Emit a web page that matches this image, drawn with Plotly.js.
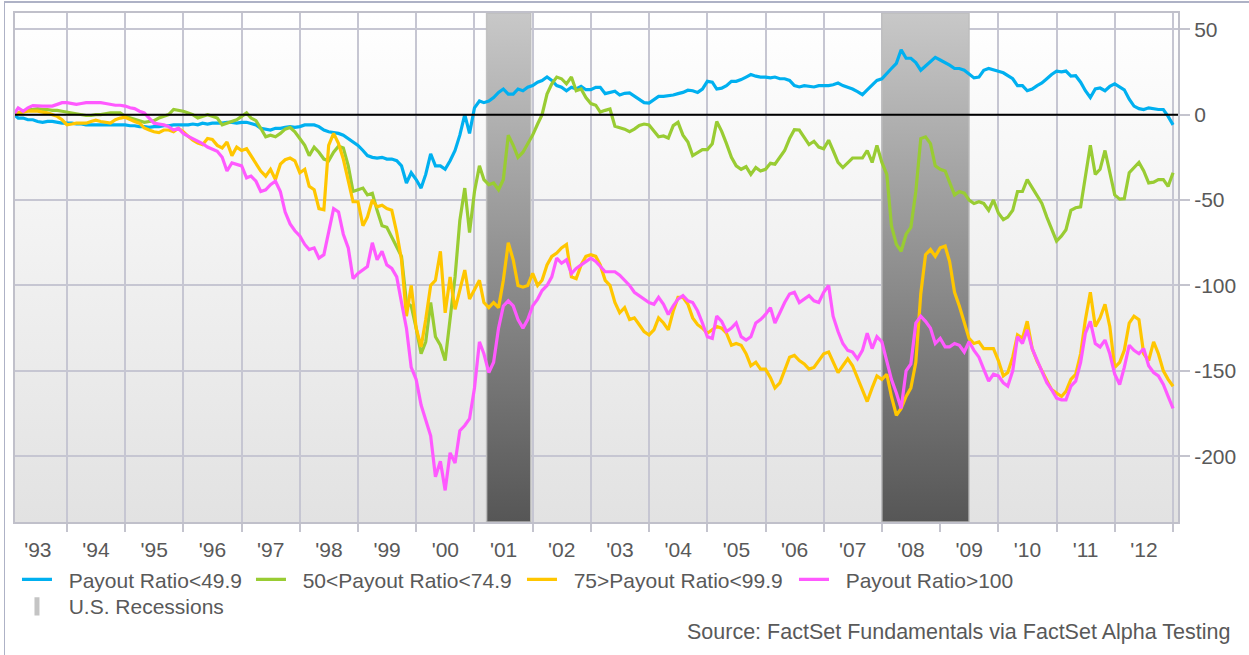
<!DOCTYPE html>
<html>
<head>
<meta charset="utf-8">
<script src="https://cdn.plot.ly/plotly-3.0.1.min.js"></script>
<style>
html,body{margin:0;padding:0;background:#ffffff;}
#wrap{position:relative;width:1249px;height:655px;overflow:hidden;}
#chart{position:absolute;left:0;top:0;width:1249px;height:655px;}
#frame{position:absolute;left:4px;top:1px;width:1250px;height:660px;border-left:1px solid #aeb2c6;border-top:2px solid #aeb2c6;pointer-events:none;}
</style>
</head>
<body>
<div id="wrap"><div id="chart"></div><div id="frame"></div></div>
<script>
// Monthly series, first value = Feb 1993, last value = Jan 2013
const firstYear = 1993;
const firstMonth = 2;

const payoutBelow50 = [
  0, -2, -2, -3, -3, -4, -4.5, -4, -4, -4.5, -5,
  -5, -5, -5.5, -5.5, -6, -6, -6, -6, -6, -6, -6, -6,
  -6, -6.5, -6.5, -7, -7, -7.5, -7, -7, -6.5, -6.5, -6, -6,
  -6, -6, -5.5, -6, -5, -5.5, -5, -5, -5, -4.5, -4.5, -5,
  -4.5, -4.5, -5, -6, -8, -8.5, -9, -8, -8, -7.5, -7, -7.5,
  -7, -6, -6, -6, -7, -9, -10, -10.5, -11, -12, -14, -16,
  -18, -21, -24, -25, -25.5, -25, -26, -26, -27, -30, -40, -34,
  -38, -43, -35, -23, -30, -30, -32, -27, -21, -12, 0, -11,
  4, 8, 7, 8, 10, 13, 15, 12, 12, 15, 14, 16,
  17, 19, 20, 22, 20, 17, 16, 14, 16, 15, 16.6, 14.6,
  14.6, 16, 16, 12.3, 13, 13.7, 11.5, 12.5, 12.7, 11, 9, 7,
  6.8, 9, 10.7, 10.7, 11, 11.5, 12.3, 13, 14.3, 14, 13, 15,
  19.5, 19, 15, 15.5, 17, 19.5, 19.5, 20.5, 22, 23.5, 22.5, 22,
  22, 21.5, 22, 21, 21, 20, 17, 16.2, 17, 16.5, 16.2, 17,
  17, 17, 17.5, 18.5, 17, 16.2, 15, 13.5, 11.7, 14.5, 17.5, 20,
  21, 24.4, 27, 30, 38, 33, 33, 30.5, 26, 28.5, 31, 33.5,
  32, 30.5, 29, 27, 27, 26, 24, 21.5, 22, 26, 27, 26,
  25.4, 24.5, 23, 21, 17, 17, 14, 15, 17, 18.5, 21, 23.5,
  25.4, 25, 25.5, 22.5, 22.8, 19, 14, 10, 15, 15.6, 14, 16.5,
  18, 16, 14.5, 9, 5, 3.5, 3, 4, 3.3, 3, 3, -1,
  -6
];

const payout50to75 = [
  0, 1, 2, 3, 3, 3.5, 3, 3, 2.5, 2.5, 2,
  1.5, 1, 0.5, 0, -0.5, -0.5, 0, 0, 0.5, 1, 1, 1,
  -1, -2, -3, -4, -4.5, -4, -3.5, -2, -1, 0, 3, 2.5,
  2, 1, 0, -2, -1, 0, -1, -2, -6, -5, -4, -3,
  -1, 1, -2, -3.5, -8, -13, -12, -13, -11, -8.5, -7.5, -10,
  -14, -18, -24, -19, -22, -26, -27, -22, -18.5, -19.5, -30, -45,
  -44, -43, -47, -46, -56, -65, -66, -72, -77, -83, -110, -112,
  -125, -140, -133, -110, -130, -135, -144, -118, -95, -62, -43, -69,
  -45, -30, -38, -41, -40, -44, -38, -12, -18, -25, -22, -17,
  -12, -5.5, 0, 12, 18, 22, 21, 18, 22, 14, 15, 10,
  6.5, 5.5, 1.5, 2.5, 3.3, -6.8, -7.5, -8.5, -10, -8.5, -6.4, -5.5,
  -6, -10, -13, -12.5, -13.7, -6.4, -4.5, -12, -16, -24, -22, -20.5,
  -20.5, -17, -4, -9.8, -17, -25, -30, -32, -30.5, -35, -31, -33,
  -32, -28.5, -29, -25, -21, -14, -8.8, -9, -13, -17.5, -15.6, -19,
  -20, -15, -21, -28, -31, -28, -25.4, -25.4, -25.4, -21, -28, -18,
  -28, -35, -65, -76, -80, -70, -66, -45, -14, -13, -17, -30,
  -32, -33, -40, -47, -45, -46, -50, -52, -51, -52, -56, -50,
  -57.6, -61.5, -60, -56, -45, -45, -38, -43, -48, -52, -60, -67,
  -74, -71, -67.4, -56, -54.5, -54, -35, -18, -35, -32, -21, -33,
  -47, -49.5, -49.2, -34, -31, -28, -33, -40, -39.5, -38, -38, -42,
  -34
];

const payout75to100 = [
  0, 1, 1.5, 2, 2, 2, 1.5, 1, 0, -1, -3,
  -5.9, -5.5, -5, -5, -5, -4, -3.3, -4, -4.5, -5, -3, -2,
  -1.5, -3, -4, -5, -7.8, -9, -10, -10.5, -9, -9, -10, -8,
  -10, -12.7, -15, -16.6, -17.6, -14, -14.5, -18, -19.5, -16, -24, -19,
  -21, -20, -24, -28, -33, -36, -32, -38, -29, -26.4, -25.4, -27,
  -34, -32, -42, -44, -55, -55.7, -18, -11, -17, -26, -39, -51,
  -51, -65, -60, -50, -54, -53, -55, -56, -69, -85, -118, -100,
  -125, -136, -120, -100, -97, -80, -116, -95, -114, -102, -91, -108,
  -102, -97, -110, -113, -110, -113, -97, -75, -85, -100, -101, -100,
  -93, -100, -97, -88, -83, -81, -78, -76, -95, -96, -88, -83,
  -82, -83, -88, -97, -100, -110, -116, -113, -120, -119, -123, -127,
  -129, -126, -119, -122, -126, -115, -107, -107, -111, -119, -123, -125,
  -128, -126, -124, -125, -128, -135, -134, -135, -140, -147, -145, -149,
  -149, -154, -160, -157, -150, -142, -141, -144, -146, -149, -148, -144,
  -140, -139, -145, -151, -147, -143, -147, -154, -161, -168, -160, -153,
  -155, -152, -165, -176, -172, -165, -160, -145, -105, -82, -79, -83,
  -78, -77, -86, -104, -112, -121, -131, -134, -133, -137, -137, -137,
  -144, -153, -151, -142, -129, -131, -121, -137, -144.5, -150, -156, -161,
  -163, -165, -162, -155, -152, -140, -120, -104, -124, -119, -111, -124,
  -148, -145, -138, -122, -118, -120, -140, -144, -133, -140, -150, -155,
  -159
];

const payoutAbove100 = [
  0, 3.9, 2, 4, 5.3, 5, 5, 5, 5, 6, 7,
  7, 6.5, 6, 6.5, 7, 7, 7, 7, 6.5, 6, 5.5, 5.5,
  5, 4, 3.5, 2, 1, -2, -5, -5.5, -6, -7, -9, -8,
  -11, -12.7, -14, -15.6, -17, -19, -20, -21.5, -25, -33, -28.3, -29,
  -30, -37, -36, -39, -45, -44, -41, -39, -45, -57, -64, -68,
  -71, -76, -79, -78, -84, -82, -68, -55, -57, -70, -78, -96,
  -93, -91, -89, -75, -85, -80, -88, -90, -95, -110, -125, -148,
  -155, -170, -178, -188, -212, -203, -220, -198, -204, -185, -182, -178,
  -160, -133, -140, -151, -145, -125, -112, -109, -112, -120, -125, -120,
  -112, -108, -103, -100, -95, -84, -87, -85, -93, -90, -88, -86,
  -84, -86, -89, -92, -92, -92, -94, -97, -100, -104, -106, -108,
  -110, -111, -107, -111, -117, -112, -108, -106, -109, -110, -115, -122,
  -130, -131, -118, -121, -127, -125, -122, -130, -132, -130, -122, -120,
  -117, -113, -122, -116, -110, -105, -104, -110, -108, -106, -109, -110,
  -104, -100, -118, -127, -134, -138, -139, -143, -138, -128, -137, -130,
  -133, -145, -155, -163, -172, -150, -146, -122, -118, -121, -125, -134,
  -131, -136, -136, -134, -135, -139, -133, -138, -142, -149, -156, -152,
  -153, -157, -159, -150, -130, -134, -126, -137, -144, -150, -157, -161,
  -166, -167, -167, -159, -156, -145, -128, -121, -134, -136, -132, -140,
  -152, -158, -148, -135, -138, -140, -137, -147, -151, -153, -158, -165,
  -172
];

const seriesNames = ['Payout Ratio<49.9', '50<Payout Ratio<74.9', '75>Payout Ratio<99.9', 'Payout Ratio>100'];
const seriesColors = ['#00b0f0', '#99cc33', '#ffc600', '#ff59ff'];
const recessionName = 'U.S. Recessions';
const recessionStart = ['2001-03-18', '2008-01-01'];
const recessionEnd = ['2001-12-20', '2009-07-01'];
const yTickVals = [50, 0, -50, -100, -150, -200];
const yTickText = ['50', '0', '-50', '-100', '-150', '-200'];
const sourceText = 'Source: FactSet Fundamentals via FactSet Alpha Testing';

const yMin = -238.5, yMax = 59.5;
const xRange = ['1993-02-09', '2013-02-01'];

function monthDates(n) {
  const out = [];
  for (let i = 0; i < n; i++) {
    const k = (firstMonth - 1) + i;
    const y = firstYear + Math.floor(k / 12);
    const m = (k % 12) + 1;
    out.push(y + '-' + String(m).padStart(2, '0') + '-01');
  }
  return out;
}
const dates = monthDates(payoutBelow50.length);

const FONT = 'Liberation Sans, Arial, sans-serif';
const TXT = '#595959';
const GRID = '#c6c6d2';
const NB = '\u00a0\u00a0';

const traces = [];
recessionStart.forEach(function (s, i) {
  const e = recessionEnd[i];
  traces.push({
    type: 'scatter', mode: 'lines',
    x: [s, s, e, e, s], y: [yMin, yMax, yMax, yMin, yMin],
    fill: 'toself',
    fillgradient: {type: 'vertical', colorscale: [[0, '#565656'], [1, '#c8c8c8']]},
    line: {color: 'rgba(190,190,190,0.9)', width: 1.5},
    showlegend: false, hoverinfo: 'skip'
  });
});

const seriesData = [payoutBelow50, payout50to75, payout75to100, payoutAbove100];
const legendWidths = [189, 226, 227, 200];
seriesData.forEach(function (vals, i) {
  traces.push({
    type: 'scatter', mode: 'lines', x: dates, y: vals,
    name: NB + seriesNames[i],
    line: {color: seriesColors[i], width: 3.2},
    legend: 'legend', legendwidth: legendWidths[i],
    hoverinfo: 'x+y'
  });
});

traces.push({
  type: 'scatter', mode: 'markers', x: [null], y: [null],
  name: NB + recessionName,
  marker: {symbol: 'line-ns-open', size: 13, color: '#c4c4c4', line: {color: '#c4c4c4', width: 5}},
  legend: 'legend2', hoverinfo: 'skip'
});

const bgSvg = "<svg xmlns='http://www.w3.org/2000/svg' width='100' height='100' preserveAspectRatio='none'>" +
  "<defs><linearGradient id='g' x1='0' y1='0' x2='0' y2='1'>" +
  "<stop offset='0' stop-color='#ffffff'/><stop offset='1' stop-color='#e2e2e2'/>" +
  "</linearGradient></defs><rect width='100' height='100' fill='url(#g)'/></svg>";

const axisCommon = {
  showgrid: true, gridcolor: GRID, gridwidth: 2,
  showline: true, mirror: true, linecolor: '#c0c0ca', linewidth: 2,
  ticks: 'outside', tickcolor: '#c4c4ce', tickwidth: 2,
  tickfont: {family: FONT, size: 21, color: TXT},
  zeroline: false, fixedrange: true
};

const layout = {
  width: 1249, height: 655,
  margin: {l: 15, r: 71, t: 13, b: 133, autoexpand: false},
  paper_bgcolor: '#ffffff',
  plot_bgcolor: 'rgba(0,0,0,0)',
  font: {family: FONT, size: 21, color: TXT},
  xaxis: Object.assign({}, axisCommon, {
    type: 'date', range: xRange,
    tick0: '1993-01-01', dtick: 'M12', tickformat: "'%y",
    ticklabelmode: 'period', ticklen: 8
  }),
  yaxis: Object.assign({}, axisCommon, {
    side: 'right', range: [yMin, yMax],
    tickmode: 'array', tickvals: yTickVals, ticktext: yTickText, ticklen: 10
  }),
  showlegend: true,
  legend: {
    orientation: 'h', x: 0.0017, xanchor: 'left', y: -0.073, yanchor: 'top',
    font: {family: FONT, size: 21, color: TXT}, bgcolor: 'rgba(0,0,0,0)', borderwidth: 0
  },
  legend2: {
    orientation: 'h', x: 0.0017, xanchor: 'left', y: -0.126, yanchor: 'top',
    font: {family: FONT, size: 21, color: TXT}, bgcolor: 'rgba(0,0,0,0)', borderwidth: 0
  },
  shapes: [{
    type: 'line', xref: 'paper', x0: 0, x1: 1, yref: 'y', y0: 0, y1: 0,
    line: {color: '#000000', width: 2}, layer: 'above'
  }],
  images: [{
    source: 'data:image/svg+xml;charset=utf-8,' + encodeURIComponent(bgSvg),
    xref: 'paper', yref: 'paper', x: 0, y: 1, sizex: 1, sizey: 1,
    xanchor: 'left', yanchor: 'top', sizing: 'stretch', layer: 'below'
  }],
  annotations: [{
    text: sourceText, xref: 'paper', yref: 'paper',
    x: 1.0464, xanchor: 'right', y: -0.216, yanchor: 'middle',
    showarrow: false, font: {family: FONT, size: 21.5, color: TXT}
  }]
};

Plotly.newPlot('chart', traces, layout, {displayModeBar: false, staticPlot: true});
</script>
</body>
</html>
